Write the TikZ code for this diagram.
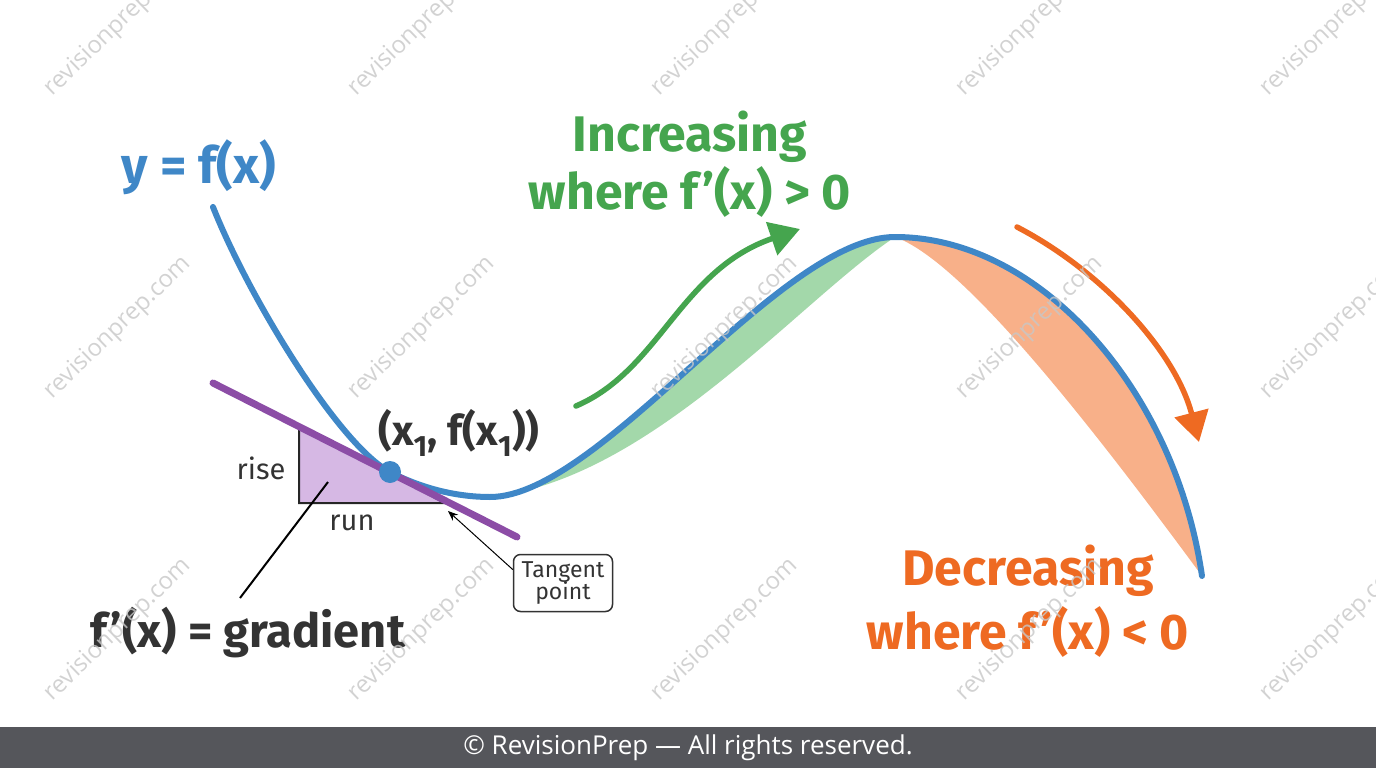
\documentclass[tikz,border=0pt]{standalone}
\usepackage{fontspec}
\setmainfont{Fira Sans}
\newfontfamily\footfont{Open Sans}
\usetikzlibrary{arrows.meta,calc}
\usepackage{xcolor}
\definecolor{curveblue}{HTML}{3F87C7}
\definecolor{incgreen}{HTML}{45A54E}
\definecolor{bandgreen}{HTML}{A3D8AA}
\definecolor{decorange}{HTML}{EE6A22}
\definecolor{bandorange}{HTML}{F8B089}
\definecolor{tanpurple}{HTML}{8C4DA6}
\definecolor{trifill}{HTML}{D6B8E4}
\definecolor{inkgray}{HTML}{333333}
\definecolor{footbar}{HTML}{55565B}
\newcommand{\fs}[1]{\fontsize{#1}{#1}\selectfont}

\begin{document}
\begin{tikzpicture}[x=1pt,y=-1pt,every node/.style={text=inkgray,inner sep=0pt},
  wmark/.style={rotate=44,text=black!22,opacity=0.8,font=\footfont\fs{24}},
  bigarrow/.style={line width=5.5,line cap=round,-{Triangle[length=30,width=34]}}]
\useasboundingbox (0,0) rectangle (1376,768);
\coordinate (tp) at (390,472);
\coordinate (tip) at (448,511);
% shaded bands under the curve
\fill[bandgreen] (490,497) .. controls (600,497) and (780,237) .. (895,237)
  .. controls (800,300) and (650,480) .. (490,497) -- cycle;
\fill[bandorange] (895,237) .. controls (1040,237) and (1175,390) .. (1202,576)
  .. controls (1080,410) and (960,260) .. (895,237) -- cycle;
% the function
\draw[curveblue,line width=6,line cap=round] (213,207) .. controls (250,300) and (340,446) .. (tp)
  .. controls (425,490) and (460,497) .. (490,497)
  .. controls (600,497) and (780,237) .. (895,237)
  .. controls (1040,237) and (1175,390) .. (1202,576);
% rise/run triangle and tangent
\filldraw[fill=trifill,draw=black!85,line width=2] (299,427) -- (299,503) -- (445,503) -- cycle;
\draw[tanpurple,line width=7,line cap=round] (213,383) -- (517,537);
\fill[curveblue] (tp) circle (11);
\node (rise) at (261,468) {\fs{29}rise};
\node (run) at (352,523) {\fs{29}run};
\node (pt) at (459,433) {\fs{42}\bfseries (x\textsubscript{1}, f(x\textsubscript{1}))};
\node (grad) at (248,633) {\fs{47}\bfseries f’(x) = gradient};
\coordinate (inside) at (328,482);
\draw[black,line width=2] (240,598) -- (inside);
\node[draw=inkgray,line width=1.5,rounded corners=7,minimum width=99,minimum height=57,align=center]
  (tpbox) at (563,583) {\fs{23}Tangent\\[-2pt]\fs{23}point};
\draw[black,line width=1,-{Stealth[length=10,width=8]}] (tpbox.165) -- (tip);
% labels and direction arrows
\node (yfx) at (199,167) {\fs{51}\bfseries\color{curveblue}y = f(x)};
\node (inc1) at (690,137) {\fs{50}\bfseries\color{incgreen}Increasing};
\node (inc2) at (690,192) {\fs{50}\bfseries\color{incgreen}where f’(x) > 0};
\node (dec1) at (1028,571) {\fs{50}\bfseries\color{decorange}Decreasing};
\node (dec2) at (1028,632) {\fs{50}\bfseries\color{decorange}where f’(x) < 0};
\draw[bigarrow,incgreen] (576,406) .. controls (660,370) and (680,270) .. (800,229);
\draw[bigarrow,decorange] (1017,227) .. controls (1100,270) and (1175,350) .. (1199,442);
% watermark
\foreach \wx in {118,422,725,1030,1334}
  \foreach \wy in {25,328,630}
    \node[wmark] (wm-\wx-\wy) at (\wx,\wy) {revisionprep.com};
% footer
\fill[footbar] (0,727) rectangle (1376,768);
\node[text=white] (foot) at (688,748) {\footfont\fs{26}© RevisionPrep — All rights reserved.};
\end{tikzpicture}
\end{document}
